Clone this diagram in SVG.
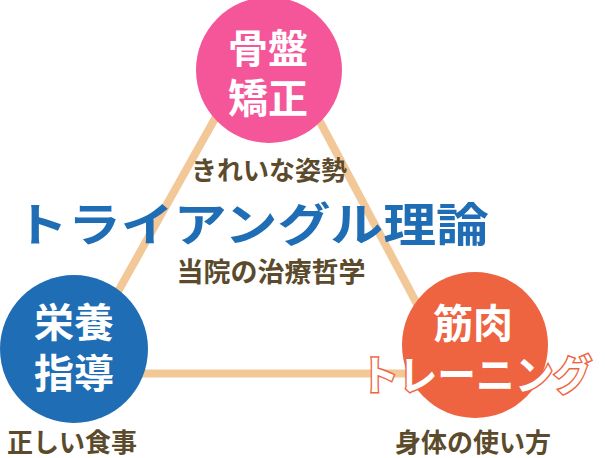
<svg xmlns="http://www.w3.org/2000/svg" width="605" height="458" viewBox="0 0 605 458">
<style>
text{font-family:"Noto Sans CJK JP","Noto Sans CJK SC",sans-serif;font-weight:700;text-anchor:middle}
.w{fill:#ffffff;font-size:40px}
.sub{fill:#5b4a2b;font-size:26px}
.edge{fill:none;stroke:#f3c898;stroke-width:8}
</style>
<rect width="605" height="458" fill="#ffffff"/>
<g id="connectors">
<line class="edge" x1="268" y1="24" x2="72" y2="373.5"/>
<line class="edge" x1="268" y1="24" x2="454" y2="373.5"/>
<line class="edge" x1="72" y1="373.5" x2="454" y2="373.5"/>
</g>
<g id="node-kotsuban">
<circle cx="269" cy="70" r="73" fill="#f5569a"/>
<text class="w"><tspan x="268" y="63">骨盤</tspan><tspan x="268" y="113">矯正</tspan></text>
<text class="sub" x="269" y="180">きれいな姿勢</text>
</g>
<g id="node-kinniku">
<circle cx="475" cy="345" r="73" fill="#ee6440"/>
<text class="w" x="473" y="338">筋肉</text>
<text x="476" y="390" font-size="41" fill="#ffffff" stroke="#ee6440" stroke-width="3" paint-order="stroke" textLength="232" lengthAdjust="spacingAndGlyphs">トレーニング</text>
<text class="sub" x="473" y="452">身体の使い方</text>
</g>
<g id="node-eiyou">
<circle cx="74" cy="349" r="74" fill="#1f6db4"/>
<text class="w"><tspan x="74" y="337">栄養</tspan><tspan x="74" y="388">指導</tspan></text>
<text class="sub" x="72" y="452">正しい食事</text>
</g>
<g id="title">
<text x="252" y="241" font-size="46" fill="#1f6db4" textLength="474" lengthAdjust="spacingAndGlyphs">トライアングル理論</text>
<text x="271" y="282" font-size="27" fill="#5b4a2b">当院の治療哲学</text>
</g>
</svg>
